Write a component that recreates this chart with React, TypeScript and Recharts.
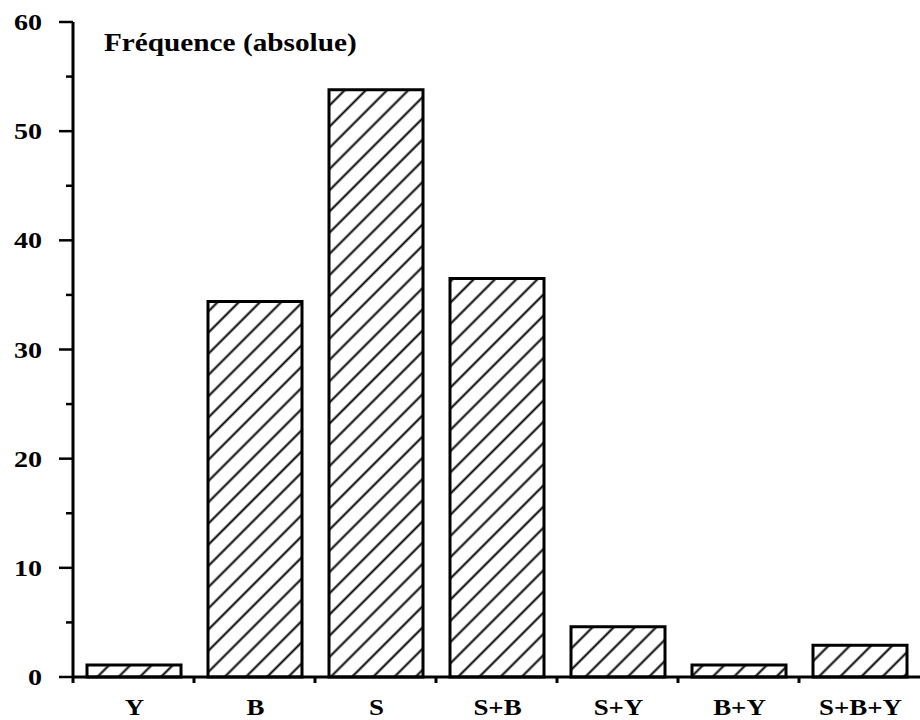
import React from "react";
import { BarChart, Bar, XAxis, YAxis } from "recharts";

const categories = ["Y", "B", "S", "S+B", "S+Y", "B+Y", "S+B+Y"];
const frequencies = [1.1, 34.4, 53.8, 36.5, 4.6, 1.1, 2.9];
const yTicks = [0, 5, 10, 15, 20, 25, 30, 35, 40, 45, 50, 55, 60];
const title = "Fréquence (absolue)";

const data = categories.map((c, i) => ({ cat: c, value: frequencies[i] }));

const W = 920;
const H = 720;
const Y_AXIS_W = 72;
const MARGIN = { top: 22, right: 0, bottom: 0, left: 1 };
const PLOT_W = W - Y_AXIS_W - MARGIN.right - MARGIN.left;
const BAND = PLOT_W / categories.length;
const FONT = '"Liberation Serif", "Times New Roman", serif';
const STRETCH = 1.17;

const YTick = (props: any) => {
  const { x, y, payload } = props;
  const major = payload.value % 10 === 0;
  const lx = x - 31;
  const ly = y + 8;
  return (
    <g>
      <line x1={x - (major ? 14 : 7)} y1={y} x2={x} y2={y} stroke="#000" strokeWidth={2.5} />
      {major && (
        <text
          x={0}
          y={0}
          transform={`translate(${lx},${ly}) scale(${STRETCH},1)`}
          textAnchor="end"
          fontFamily={FONT}
          fontWeight="bold"
          fontSize={24}
          fill="#000"
        >
          {payload.value}
        </text>
      )}
    </g>
  );
};

const XTick = (props: any) => {
  const { x, y, payload } = props;
  const left = x - BAND / 2;
  return (
    <g>
      <line x1={left} y1={y} x2={left} y2={y + 6} stroke="#000" strokeWidth={3} />
      <text
        x={0}
        y={0}
        transform={`translate(${x + 1},${y + 38}) scale(${STRETCH},1)`}
        textAnchor="middle"
        fontFamily={FONT}
        fontWeight="bold"
        fontSize={23}
        fill="#000"
      >
        {payload.value}
      </text>
    </g>
  );
};

export default function App() {
  return (
    <div style={{ position: "absolute", left: 0, top: 0, width: W, height: H, background: "#fff" }}>
      <BarChart width={W} height={H} data={data} margin={MARGIN} barSize={94}>
        <defs>
          <pattern
            id="hatch"
            patternUnits="userSpaceOnUse"
            width={15}
            height={15}
            patternTransform="rotate(45)"
          >
            <rect x={0} y={0} width={15} height={15} fill="#fff" />
            <line x1={7.5} y1={-1} x2={7.5} y2={16} stroke="#000" strokeWidth={2} />
          </pattern>
        </defs>
        <XAxis
          dataKey="cat"
          height={43}
          axisLine={{ stroke: "#000", strokeWidth: 3 }}
          tickLine={false}
          tickSize={0}
          tickMargin={0}
          interval={0}
          tick={<XTick />}
        />
        <YAxis
          width={Y_AXIS_W}
          domain={[0, 60]}
          ticks={yTicks}
          interval={0}
          axisLine={{ stroke: "#000", strokeWidth: 3 }}
          tickLine={false}
          tickSize={0}
          tickMargin={0}
          tick={<YTick />}
        />
        <Bar
          dataKey="value"
          fill="url(#hatch)"
          stroke="#000"
          strokeWidth={3}
          isAnimationActive={false}
        />
      </BarChart>
      <div
        style={{
          position: "absolute",
          left: 104,
          top: 30,
          fontFamily: FONT,
          fontWeight: "bold",
          fontSize: 25,
          lineHeight: "25px",
          color: "#000",
          whiteSpace: "nowrap",
          transform: `scaleX(${STRETCH})`,
          transformOrigin: "left top",
        }}
      >
        {title}
      </div>
    </div>
  );
}
